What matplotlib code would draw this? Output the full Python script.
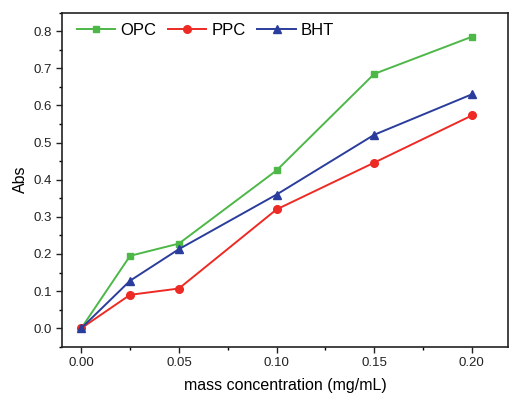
import matplotlib
matplotlib.use("Agg")
import matplotlib.pyplot as plt
from matplotlib.ticker import MultipleLocator

plt.rcParams["font.family"] = ["Liberation Sans", "DejaVu Sans"]

conc = [0.0, 0.025, 0.05, 0.10, 0.15, 0.20]
opc = [0.0, 0.195, 0.228, 0.425, 0.685, 0.785]
ppc = [0.0, 0.090, 0.107, 0.320, 0.446, 0.573]
bht = [0.0, 0.128, 0.213, 0.360, 0.521, 0.630]

fig = plt.figure(figsize=(5.09, 3.95), dpi=100)
ax = fig.add_axes([0.122, 0.122, 0.876, 0.846])

ax.plot(conc, opc, color="#4db848", marker="s", markersize=5, linewidth=1.4, label="OPC")
ax.plot(conc, ppc, color="#ee2a24", marker="o", markersize=5.5, linewidth=1.4, label="PPC")
ax.plot(conc, bht, color="#2b3d9c", marker="^", markersize=6, linewidth=1.4, label="BHT")

ax.set_xlim(-0.0098, 0.2185)
ax.set_ylim(-0.05, 0.85)
ax.xaxis.set_major_locator(MultipleLocator(0.05))
ax.xaxis.set_minor_locator(MultipleLocator(0.025))
ax.yaxis.set_major_locator(MultipleLocator(0.1))
ax.yaxis.set_minor_locator(MultipleLocator(0.05))
ax.xaxis.set_major_formatter(plt.FormatStrFormatter("%.2f"))
ax.yaxis.set_major_formatter(plt.FormatStrFormatter("%.1f"))
ax.tick_params(which="major", direction="out", length=4, width=1, labelsize=9.5, colors="#222222")
ax.tick_params(which="minor", direction="out", length=2.5, width=1)
for s in ax.spines.values():
    s.set_linewidth(1.2)
    s.set_color("#222222")

ax.set_xlabel("mass concentration (mg/mL)", fontsize=11.5, labelpad=6)
ax.set_ylabel("Abs", fontsize=11.5)

ax.legend(loc="upper left", ncol=3, frameon=False, fontsize=12, handlelength=2.3,
          handletextpad=0.3, columnspacing=0.7, bbox_to_anchor=(0.0, 1.015))

fig.savefig("out.png", dpi=100)
